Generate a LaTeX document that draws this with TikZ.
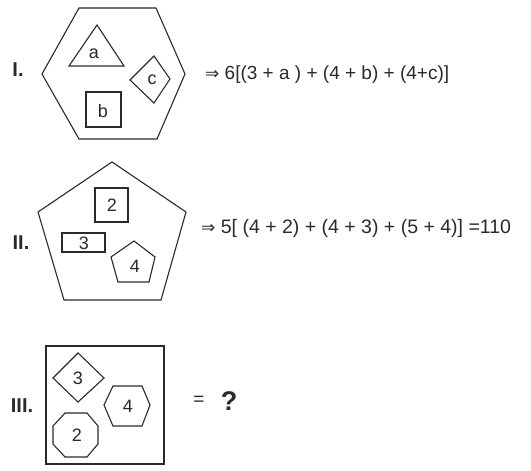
\documentclass[tikz,border=0pt]{standalone}
\usepackage{fontspec}
\setmainfont{Liberation Sans}
\newfontfamily\symfont{DejaVu Sans}
\definecolor{ink}{HTML}{2A2A2A}
\tikzset{
  shp/.style={draw=ink, line width=1.1pt, line join=miter},
  lbl/.style={text=ink, font=\fontsize{18}{18}\selectfont, inner sep=0pt},
  roman/.style={text=ink, font=\fontsize{20}{20}\selectfont\bfseries, inner sep=0pt},
  eqn/.style={text=ink, font=\fontsize{19}{19}\selectfont, inner sep=0pt, anchor=base west}
}
\newcommand{\imp}{{\symfont\fontsize{17}{17}\selectfont ⇒}}
\begin{document}
\begin{tikzpicture}[x=1pt,y=-1pt]
\useasboundingbox[fill=white] (0,0) rectangle (531,471);
% ---------- I ----------
\node[roman] (r1) at (18,70) {I.};
\draw[shp] (79,8) -- (156,8) -- (185,74) -- (157,139) -- (79,139) -- (42,74) -- cycle;
\draw[shp] (97,25) -- (124,66) -- (69,66) -- cycle;
\node[lbl] (la) at (94,54) {a};
\draw[shp] (154,56) -- (170,79) -- (154,103) -- (130,80) -- cycle;
\node[lbl] (lc) at (152,80) {c};
\draw[shp] (86,92) rectangle (121,127);
\node[lbl] (lb) at (103,111) {b};
\node[eqn] (e1) at (205,79) {\imp\ 6[(3 + a ) + (4 + b) + (4+c)]};
% ---------- II ----------
\node[roman] (r2) at (21,243) {II.};
\draw[shp] (112,162) -- (186,212) -- (161,300) -- (64,300) -- (38,212) -- cycle;
\draw[shp] (95,188) rectangle (128,222);
\node[lbl] (l2) at (112,205) {2};
\draw[shp] (62,233) rectangle (105,252);
\node[lbl] (l3) at (84,243.5) {3};
\draw[shp] (134,241) -- (155,257) -- (149,282) -- (118,282) -- (111,257) -- cycle;
\node[lbl] (l4) at (135,266) {4};
\node[eqn, font=\fontsize{19.5}{19.5}\selectfont] (e2) at (201,233) {\imp\ 5[ (4 + 2) + (4 + 3) + (5 + 4)] =110};
% ---------- III ----------
\node[roman] (r3) at (22,406) {III.};
\draw[shp] (46,346) rectangle (164,464);
\draw[shp] (78,353) -- (104,378) -- (78,402) -- (53,378) -- cycle;
\node[lbl] (m3) at (78,378) {3};
\draw[shp] (104,405) -- (113,386) -- (142,386) -- (150,405) -- (142,426) -- (113,426) -- cycle;
\node[lbl] (m4) at (128,406) {4};
\draw[shp] (98,426) -- (87,413) -- (65,413) -- (53,426) -- (53,444) -- (65,457) -- (87,457) -- (98,444) -- cycle;
\node[lbl] (m2) at (77,435) {2};
\node[text=ink, font=\fontsize{19}{19}\selectfont, inner sep=0pt] (eq3) at (199,401) {=};
\node[text=ink, font=\fontsize{27}{27}\selectfont\bfseries, inner sep=0pt] (q3) at (229,401) {?};
\end{tikzpicture}
\end{document}
